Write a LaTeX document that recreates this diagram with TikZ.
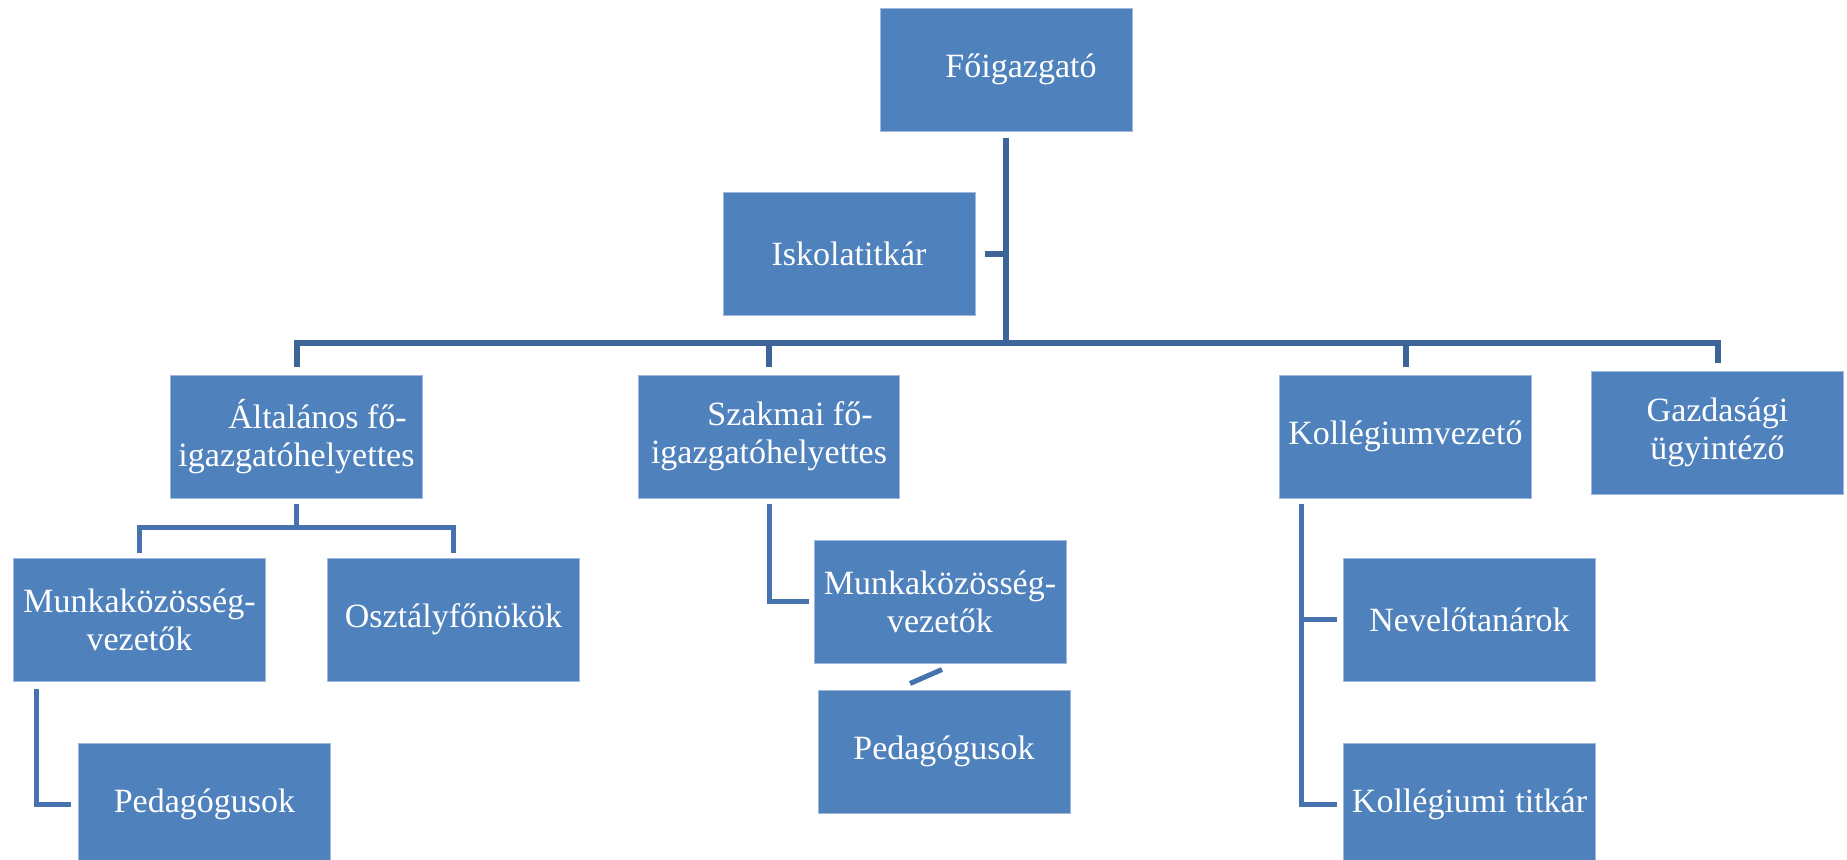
\documentclass[tikz,border=0pt]{standalone}
\usepackage{fontspec}
\setmainfont{Liberation Serif}
\usetikzlibrary{positioning, calc}
\definecolor{boxblue}{HTML}{4F81BD}
\definecolor{boxedge}{HTML}{9FB8DD}
\definecolor{lineblue}{HTML}{3D6597}
\definecolor{subblue}{HTML}{4672AD}
\tikzset{
    org_box/.style={rectangle, fill=boxblue, draw=boxedge, line width=0.5pt, minimum width=126pt, minimum height=61.5pt, inner sep=2pt, text centered, align=center, text=white, font=\fontsize{17}{19}\selectfont},
    wide_box/.style={org_box, minimum width=130.5pt},
    conn_line/.style={line width=3pt, draw=lineblue},
    sub_line/.style={line width=2.5pt, draw=subblue},
}

\begin{document}
\begin{tikzpicture}
            \useasboundingbox (0,0) rectangle (923.5pt,-429.5pt);
            %%%%%%%%%%%%%%%%
            % TOP LEVEL    %
            %%%%%%%%%%%%%%%%
            \node (fo_igazgato) [org_box] at (503pt,-34.75pt)
                    {\hspace*{15pt}Főigazgató};
            \node (iskola_titkar) [org_box, below = 30pt of fo_igazgato, xshift=-78.5pt]
                    {Iskolatitkár};

            %%%%%%%%%%%%%%%%
            % SECOND LEVEL %
            %%%%%%%%%%%%%%%%
            \node (alt_helyettes) [org_box, below = 29.5pt of iskola_titkar, xshift=-276.25pt]
                    {\hspace*{21pt}Általános fő-\\igazgatóhelyettes};
            \node (szak_helyettes) [wide_box, right = 107.5pt of alt_helyettes]
                    {\hspace*{21pt}Szakmai fő-\\igazgatóhelyettes};
            \node (koll_vezeto) [org_box, right = 189.5pt of szak_helyettes]
                    {Kollégiumvezető};
            \node (gazd_ugyintezo) [org_box, right = 29.5pt of koll_vezeto, yshift=2pt]
                    {Gazdasági\\ügyintéző};

            %%%%%%%%%%%%%%%%
            % ALTALANOS    %
            %%%%%%%%%%%%%%%%
            \node (alt_munka) [org_box, below = 29.5pt of alt_helyettes, xshift=-78.5pt]
                    {Munkaközösség-\\vezetők};
            \node (alt_osztaly) [org_box, right = 30.5pt of alt_munka]
                    {Osztályfőnökök};
            \node (alt_pedagogus) [org_box, below = 30.5pt of alt_munka, xshift=32.5pt]
                    {Pedagógusok};

            %%%%%%%%%%%%%%%%
            % SZAKMAI      %
            %%%%%%%%%%%%%%%%
            \node (szak_munka) [org_box, below = 20.5pt of szak_helyettes, xshift=85.5pt]
                    {Munkaközösség-\\vezetők};
            \node (szak_pedagogus) [org_box, below = 13pt of szak_munka, xshift=2pt]
                    {Pedagógusok};

            %%%%%%%%%%%%%%%%
            % KOLLEGIUM    %
            %%%%%%%%%%%%%%%%
            \node (koll_nevelo) [org_box, below = 29.5pt of koll_vezeto, xshift=32pt]
                    {Nevelőtanárok};
            \node (koll_titkar) [org_box, below = 30.5pt of koll_nevelo]
                    {Kollégiumi titkár};

            % connectors
            \coordinate (bar) at ([yshift=-105.5pt]fo_igazgato.south);
            \coordinate (alt_split) at ([yshift=-14.5pt]alt_helyettes.south);
            \coordinate (koll_trunk) at ([xshift=11pt, yshift=-2.5pt]koll_vezeto.south west);

            \draw [conn_line] ([yshift=-3pt]fo_igazgato.south) -- (bar);
            \draw [conn_line] ([xshift=4.5pt]iskola_titkar.east) -- (iskola_titkar.east -| bar);
            \draw [conn_line] ([yshift=4pt]alt_helyettes.north) |- (bar) -| ([yshift=4pt]gazd_ugyintezo.north);
            \draw [conn_line] (szak_helyettes.north |- bar) -- ([yshift=4pt]szak_helyettes.north);
            \draw [conn_line] (koll_vezeto.north |- bar) -- ([yshift=4pt]koll_vezeto.north);

            \draw [sub_line] ([yshift=-2.5pt]alt_helyettes.south) -- (alt_split);
            \draw [sub_line] ([yshift=2.5pt]alt_munka.north) |- (alt_split) -| ([yshift=2.5pt]alt_osztaly.north);
            \draw [sub_line] ([xshift=11.5pt, yshift=-3.5pt]alt_munka.south west) |- ([xshift=-3.5pt]alt_pedagogus.west);

            \draw [sub_line] ([yshift=-2.5pt]szak_helyettes.south) |- ([xshift=-2.5pt]szak_munka.west);
            \draw [sub_line] ([xshift=1pt, yshift=-3pt]szak_munka.south) -- ([xshift=-17pt, yshift=3pt]szak_pedagogus.north);

            \draw [sub_line] (koll_trunk) |- ([xshift=-3pt]koll_titkar.west);
            \draw [sub_line] (koll_trunk |- koll_nevelo.west) -- ([xshift=-3pt]koll_nevelo.west);
      \end{tikzpicture}
\end{document}
